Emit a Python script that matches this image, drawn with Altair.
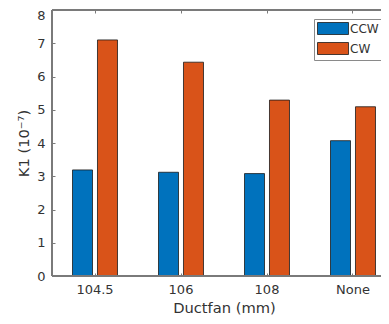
import altair as alt
import pandas as pd

categories = ["104.5", "106", "108", "None"]
series = ["CCW", "CW"]
ccw_values = [3.19, 3.12, 3.08, 4.07]
cw_values = [7.10, 6.43, 5.29, 5.09]
colors = ["#0072BD", "#D95319"]

rows = []
for c, v in zip(categories, ccw_values):
    rows.append({"cat": c, "dir": "CCW", "val": v})
for c, v in zip(categories, cw_values):
    rows.append({"cat": c, "dir": "CW", "val": v})
df = pd.DataFrame(rows)

FONT = "DejaVu Sans"
TXT = "#333333"
LINE = "#7a7a7a"
W, H = 329, 266

xscale = alt.Scale(domain=categories, range=[0, 344], paddingInner=0.477, paddingOuter=0.2385)
yscale = alt.Scale(domain=[0, 8], nice=False)

bars = alt.Chart(df).mark_bar(stroke="#1a1a1a", strokeWidth=0.8).encode(
    x=alt.X("cat:N", sort=categories, scale=xscale,
            axis=alt.Axis(title="Ductfan (mm)", orient="bottom", domain=False, ticks=True,
                          tickSize=3, offset=-3, tickColor=LINE, labelPadding=7,
                          labelFontSize=13, labelFont=FONT, labelColor=TXT, labelAngle=0,
                          titleFont=FONT, titleFontSize=14.7, titleFontWeight="normal",
                          titleColor=TXT, titlePadding=4.5, titleX=172)),
    xOffset=alt.XOffset("dir:N", sort=series,
                        scale=alt.Scale(paddingInner=0.2, paddingOuter=0)),
    y=alt.Y("val:Q", scale=yscale,
            axis=alt.Axis(title="K1 (10⁻⁷)", values=list(range(0, 9)), grid=False,
                          domain=False, ticks=True, tickSize=3, offset=-3, tickColor=LINE,
                          labelPadding=7, labelFontSize=13, labelFont=FONT, labelColor=TXT,
                          titleFont=FONT, titleFontSize=14.7, titleFontWeight="normal",
                          titleColor=TXT, titlePadding=5,
                          labelOffset={"condition": {"test": "datum.value == 8", "value": 5},
                                       "value": 0})),
    color=alt.Color("dir:N", sort=series,
                    scale=alt.Scale(domain=series, range=colors),
                    legend=alt.Legend(title=None, orient="none", legendX=262, legendY=9,
                                      symbolType="M-1,-1H4.17V1H-1Z", symbolSize=144,
                                      symbolStrokeColor="#1a1a1a", symbolStrokeWidth=0.8,
                                      labelOffset=20, labelFont=FONT, labelFontSize=12,
                                      labelColor=TXT, rowPadding=3, padding=3,
                                      strokeColor="#8a8a8a", fillColor="white",
                                      cornerRadius=0)),
)

top = alt.Chart(df).mark_point(opacity=0).encode(
    x=alt.X("cat:N", sort=categories, scale=xscale,
            axis=alt.Axis(orient="top", labels=False, domain=False, ticks=True, tickSize=3,
                          offset=-3, tickColor=LINE, title=None)),
    y=alt.value(0),
)

frame_left = alt.Chart(df).mark_rule(color=LINE, strokeWidth=1).encode(
    x=alt.value(0), y=alt.value(0), y2=alt.value(H))
frame_top = alt.Chart(df).mark_rule(color=LINE, strokeWidth=1).encode(
    x=alt.value(0), x2=alt.value(W), y=alt.value(0))
frame_bottom = alt.Chart(df).mark_rule(color=LINE, strokeWidth=1).encode(
    x=alt.value(0), x2=alt.value(W), y=alt.value(H))

chart = alt.layer(bars, top, frame_left, frame_top, frame_bottom).resolve_axis(
    x="independent").properties(
    width=W, height=H,
    autosize=alt.AutoSizeParams(type="none"),
    padding={"left": 44, "top": 2, "right": 0, "bottom": 40},
).configure_view(stroke=None).configure_axis(grid=False)

chart.save("out.html", embed_options={"renderer": "svg", "actions": False})
